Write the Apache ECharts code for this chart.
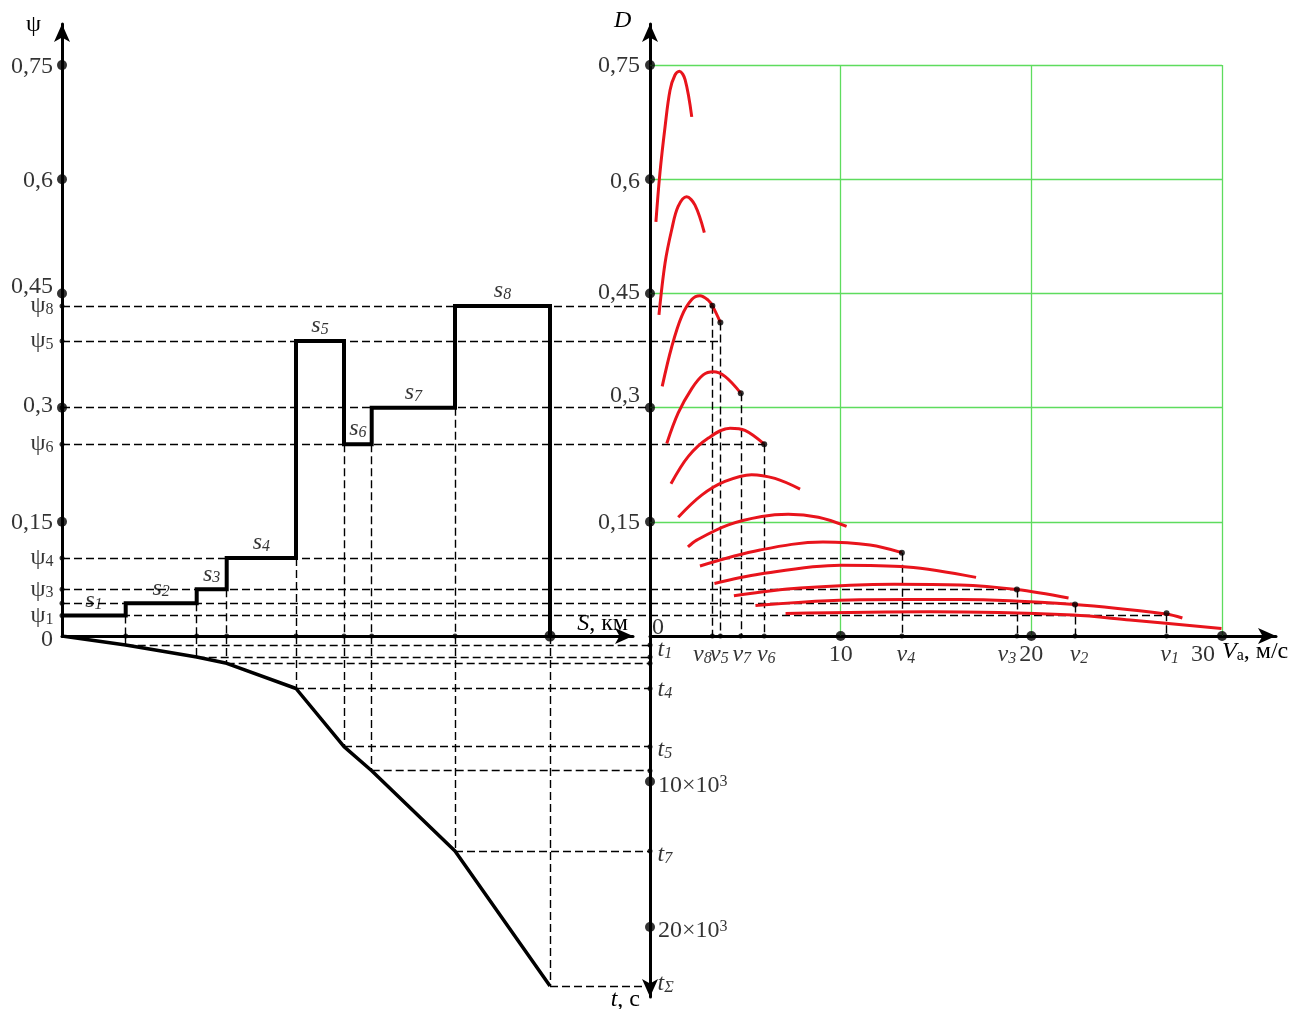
<!DOCTYPE html>
<html>
<head>
<meta charset="utf-8">
<script src="https://cdn.jsdelivr.net/npm/echarts@6.0.0/dist/echarts.min.js"></script>
<style>
html, body { margin: 0; padding: 0; background: #fff; }
#main { width: 1304px; height: 1009px; }
</style>
</head>
<body>
<div id="main"></div>
<script>
// route stages: end of stage S (km), road resistance psi, elapsed time t (s)
var stageEnd  = [6.37, 13.47, 16.47, 23.4, 28.2, 30.97, 39.3, 48.8];
var stagePsi  = [0.027, 0.043, 0.0614, 0.1025, 0.3876, 0.252, 0.300, 0.4336];
var stageTime = [619, 1443, 1876, 3608, 7608, 9258, 14777, 24055];
var psiName   = ['1', '', '3', '4', '5', '6', '', '8'];
var timeName  = ['1', '', '', '4', '5', '', '7', 'Σ'];

// speed found on the dynamic characteristic for each stage
var stageV = [27.09, 22.29, 19.24, 13.21, 3.69, 5.99, 4.76, 3.27];
var stageD = [0.030, 0.0414, 0.061, 0.1095, 0.412, 0.252, 0.319, 0.434];

// tick values and labels
var psiTicks    = [0.15, 0.3, 0.45, 0.6, 0.75];
var psiTickText = ['0,15', '0,3', '0,45', '0,6', '0,75'];
var vTicks      = [10, 20, 30];
var tTicks      = [10000, 20000];
var tTickText   = ['10×10', '20×10'];

// dynamic characteristic D(Va), one curve per gear, [Va m/s, D]
var dyn1  = [[0.31,0.544],[0.52,0.608],[0.79,0.669],[1.05,0.717],[1.31,0.737],[1.54,0.742],[1.84,0.731],[2.19,0.682]];
var dyn2  = [[0.47,0.422],[0.79,0.490],[1.14,0.534],[1.47,0.564],[1.92,0.577],[2.36,0.566],[2.85,0.530]];
var dyn3  = [[0.64,0.328],[1.14,0.380],[1.66,0.420],[2.19,0.442],[2.62,0.447],[3.06,0.441],[3.27,0.434],[3.69,0.412]];
var dyn4  = [[0.88,0.253],[1.48,0.293],[2.19,0.325],[2.79,0.343],[3.32,0.347],[3.93,0.341],[4.76,0.319]];
var dyn5  = [[1.10,0.200],[2.01,0.236],[3.06,0.260],[4.20,0.273],[4.98,0.270],[5.99,0.252]];
var dyn6  = [[1.48,0.156],[2.71,0.185],[3.93,0.203],[5.33,0.212],[6.55,0.207],[7.87,0.193]];
var dyn7  = [[1.99,0.117],[2.45,0.126],[4.11,0.146],[5.86,0.157],[7.25,0.160],[8.83,0.156],[10.31,0.144]];
var dyn8  = [[2.62,0.092],[5.77,0.113],[9.07,0.1235],[11.54,0.1196],[13.21,0.1096]];
var dyn9  = [[3.38,0.069],[5.77,0.0815],[10.0,0.093],[13.48,0.0907],[17.1,0.077]];
var dyn10 = [[4.40,0.053],[7.87,0.063],[12.8,0.068],[16.26,0.067],[19.22,0.061],[21.95,0.050]];
var dyn11 = [[5.53,0.040],[10.99,0.0476],[16.26,0.048],[22.26,0.0414],[27.06,0.029],[27.92,0.0237]];
var dyn12 = [[7.11,0.0294],[14.67,0.0317],[22.18,0.0276],[25.17,0.021],[29.97,0.010]];
var dynCurves = [dyn1, dyn2, dyn3, dyn4, dyn5, dyn6, dyn7, dyn8, dyn9, dyn10, dyn11, dyn12];

var F = '"Liberation Serif", "Times New Roman", serif';
var sRight = 58.8;   // S value where the time axis stands

var rich = {
    n:    { fontFamily: F, fontSize: 24, lineHeight: 24, verticalAlign: 'bottom', color: '#000' },
    i:    { fontFamily: F, fontSize: 24, lineHeight: 24, verticalAlign: 'bottom', fontStyle: 'italic', color: '#000' },
    sub:  { fontFamily: F, fontSize: 16, lineHeight: 10, verticalAlign: 'bottom', fontStyle: 'italic', color: '#000' },
    subr: { fontFamily: F, fontSize: 16, lineHeight: 10, verticalAlign: 'bottom', color: '#000' },
    sup:  { fontFamily: F, fontSize: 16, lineHeight: 10, verticalAlign: 'top', color: '#000' }
};

function lab(pos, dist) {
    return { show: true, position: pos, distance: dist, rich: rich,
             fontFamily: F, fontSize: 24, color: '#000',
             formatter: function (p) { return p.name; } };
}
function axisLineStyle(sym) {
    return { show: true, onZero: false, symbol: sym, symbolSize: [12, 18],
             lineStyle: { color: '#000', width: 3 } };
}
function plainAxis(grid, min, max, extra) {
    var a = { type: 'value', gridIndex: grid, min: min, max: max,
              axisLine: axisLineStyle(['none', 'arrow']), axisTick: { show: false },
              axisLabel: { show: false }, splitLine: { show: false } };
    for (var k in extra) a[k] = extra[k];
    return a;
}
function dashes(xi, yi, segs) {
    return { type: 'lines', coordinateSystem: 'cartesian2d', xAxisIndex: xi, yAxisIndex: yi,
             polyline: false, silent: true, clip: false, z: 2,
             lineStyle: { color: '#000', width: 1.4, type: [8, 4], opacity: 1 },
             data: segs.map(function (s) { return { coords: s }; }) };
}
function dots(xi, yi, size, data, label) {
    return { type: 'scatter', xAxisIndex: xi, yAxisIndex: yi, symbol: 'circle', symbolSize: size,
             itemStyle: { color: '#000' }, z: 6, silent: true, label: label || { show: false },
             data: data };
}

var myChart = echarts.init(document.getElementById('main'));

// step line psi(S)
var stepData = [];
stageEnd.forEach(function (s, i) {
    stepData.push([i ? stageEnd[i - 1] : 0, stagePsi[i]]);
    stepData.push([s, stagePsi[i]]);
});
stepData.push([stageEnd[7], 0]);

// time polyline t(S)
var timeData = [[0, 0]].concat(stageEnd.map(function (s, i) { return [s, stageTime[i]]; }));

// dashed construction lines
var dashA = [], dashB = [], dashC = [];
stageEnd.forEach(function (s, i) {
    var low = Math.min(stagePsi[i], i < 7 ? stagePsi[i + 1] : 0);
    dashA.push([[0, stagePsi[i]], [sRight, stagePsi[i]]]);
    dashA.push([[s, low], [s, 0]]);
    if (i !== 6) dashB.push([[0, stagePsi[i]], [stageV[i], stagePsi[i]]]);
    dashB.push([[stageV[i], stageD[i]], [stageV[i], 0]]);
    dashC.push([[s, 0], [s, stageTime[i]]]);
    dashC.push([[s, stageTime[i]], [sRight, stageTime[i]]]);
});

// green grid of the D(Va) field
var gridSegs = psiTicks.map(function (d) { return { coords: [[0, d], [30, d]] }; })
    .concat(vTicks.map(function (v) { return { coords: [[v, 0], [v, 0.75]] }; }));

var leftTickShift  = [[0, 1], [0, -2], [0, -7], [0, 1], [0, 2]];
var rightTickShift = [[0, 1], [0, -12], [0, -1], [0, 2], [0, 1]];
var vTickShift     = [[0, 0], [0, 0], [-19, 0]];
var vLabelShift    = [3, 4, -10, 4, -1, 2, 1, -10];
var tLabelShift    = [5, 0, 0, 1, 3, 0, 4, -2];

var series = [];

series.push({ type: 'lines', coordinateSystem: 'cartesian2d', xAxisIndex: 1, yAxisIndex: 1,
    polyline: false, silent: true, z: 1, lineStyle: { color: '#5edc5e', width: 1.3, opacity: 1 },
    data: gridSegs });

series.push(dashes(0, 0, dashA), dashes(1, 1, dashB), dashes(2, 2, dashC));

dynCurves.forEach(function (c, k) {
    series.push({ type: 'line', name: 'gear' + (k + 1), xAxisIndex: 1, yAxisIndex: 1, data: c,
        smooth: 0.35, symbol: 'none', silent: true, z: 3,
        lineStyle: { color: '#e8141c', width: 3 } });
});

series.push({ type: 'line', xAxisIndex: 0, yAxisIndex: 0, data: stepData, symbol: 'none',
    silent: true, z: 4, lineStyle: { color: '#000', width: 4, join: 'miter' } });
series.push({ type: 'line', xAxisIndex: 2, yAxisIndex: 2, data: timeData, symbol: 'none',
    silent: true, z: 4, lineStyle: { color: '#000', width: 3.5 } });

// psi axis (left)
series.push(dots(0, 0, 10, psiTicks.map(function (v, k) {
    return { value: [0, v], name: '{n|' + psiTickText[k] + '}', label: { offset: leftTickShift[k] } };
}), lab('left', 4)));
series.push(dots(0, 0, 5, stagePsi.map(function (v, i) {
    return { value: [0, v], name: psiName[i] ? '{n|ψ}{subr|' + psiName[i] + '}' : '' };
}), lab('left', 6)));
series.push(dots(0, 0, 0, [{ value: [0, 0], name: '{n|0}', label: { offset: [0, 4] } }], lab('left', 9)));

// S axis marks and stage labels
series.push(dots(0, 0, 5, stageEnd.map(function (s, i) {
    return { value: [s, 0], symbolSize: i === 7 ? 11 : 5, name: '' };
})));
series.push(dots(0, 0, 0, stageEnd.map(function (s, i) {
    return { value: [((i ? stageEnd[i - 1] : 0) + s) / 2, stagePsi[i]], name: '{i|s}{sub|' + (i + 1) + '}' };
}), lab('top', 3)));

// D axis and Va axis
series.push(dots(1, 1, 10, psiTicks.map(function (v, k) {
    return { value: [0, v], name: '{n|' + psiTickText[k] + '}', label: { offset: rightTickShift[k] } };
}), lab('left', 5)));
series.push(dots(1, 1, 10, vTicks.map(function (v, k) {
    return { value: [v, 0], name: '{n|' + v + '}', label: { offset: vTickShift[k] } };
}), lab('bottom', 2)));
series.push(dots(1, 1, 5, stageV.map(function (v, i) {
    return { value: [v, 0], name: '{i|v}{sub|' + (i + 1) + '}', label: { offset: [vLabelShift[i], 0] } };
}), lab('bottom', 4)));
series.push(dots(1, 1, 6, stageV.map(function (v, i) { return { value: [v, stageD[i]], name: '' }; })));
series.push(dots(1, 1, 0, [{ value: [0, 0], name: '{n|0}', label: { offset: [0, -8] } }], lab('right', 2)));

// time axis
series.push(dots(2, 2, 5, stageTime.map(function (t, i) {
    return { value: [sRight, t], name: timeName[i] ? '{i|t}{sub|' + timeName[i] + '}' : '',
             label: { offset: [0, tLabelShift[i]] } };
}), lab('right', 5)));
series.push(dots(2, 2, 10, tTicks.map(function (t, k) {
    return { value: [sRight, t], name: '{n|' + tTickText[k] + '}{sup|3}', label: { offset: [0, 4] } };
}), lab('right', 3)));

var option = {
    animation: false,
    backgroundColor: '#fff',
    grid: [
        { left: 62, top: 24, width: 571, height: 612 },
        { left: 650, top: 24, width: 626, height: 612 },
        { left: 62, top: 636, width: 588, height: 361 }
    ],
    xAxis: [
        plainAxis(0, 0, 57.1, {}),
        plainAxis(1, 0, 32.83, {}),
        plainAxis(2, 0, sRight, { show: false })
    ],
    yAxis: [
        plainAxis(0, 0, 0.804, {}),
        plainAxis(1, 0, 0.804, {}),
        plainAxis(2, 0, 24811, { inverse: true, position: 'right',
                                 axisLine: axisLineStyle(['arrow', 'none']) })
    ],
    graphic: [
        { type: 'text', x: 26, y: 13, style: { text: 'ψ', fontFamily: F, fontSize: 24, fill: '#000' } },
        { type: 'text', x: 614, y: 9, style: { text: 'D', fontFamily: F, fontSize: 24, fontStyle: 'italic', fill: '#000' } },
        { type: 'text', x: 628, y: 612, style: { text: '{i|S}{n|, км}', rich: rich, align: 'right', fill: '#000' } },
        { type: 'text', x: 1222, y: 640, style: { text: '{i|V}{subr|а}{n|, м/с}', rich: rich, fill: '#000' } },
        { type: 'text', x: 640, y: 988, style: { text: '{i|t}{n|, с}', rich: rich, align: 'right', fill: '#000' } }
    ],
    series: series
};

myChart.setOption(option);
</script>
</body>
</html>
